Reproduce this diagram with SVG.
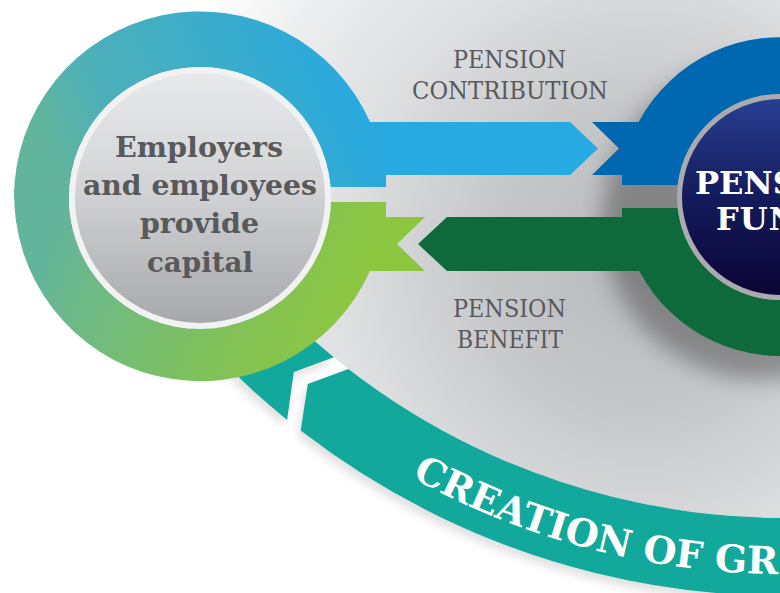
<svg xmlns="http://www.w3.org/2000/svg" width="780" height="593" viewBox="0 0 780 593">
  <defs>
    <style>
      .lbl { font-family: "DejaVu Serif", "Liberation Serif", serif; font-size: 24.5px; fill: #58595b; text-anchor: middle; }
      .cap { font-family: "DejaVu Serif", "Liberation Serif", serif; font-size: 27px; font-weight: bold; fill: #58595b; text-anchor: middle; }
      .fund { font-family: "DejaVu Serif", "Liberation Serif", serif; font-size: 32px; font-weight: bold; fill: #ffffff; }
      .band { font-family: "DejaVu Serif", "Liberation Serif", serif; font-size: 38px; font-weight: bold; fill: #ffffff; }
      .teal { fill: #12a89c; }
    </style>
    <radialGradient id="bgGrad" gradientUnits="userSpaceOnUse" cx="640" cy="260" r="520">
      <stop offset="0" stop-color="#b7b8bb"/>
      <stop offset="0.29" stop-color="#c6c7c9"/>
      <stop offset="0.48" stop-color="#d6d7d9"/>
      <stop offset="0.58" stop-color="#dfe0e1"/>
      <stop offset="0.8" stop-color="#edeeef"/>
      <stop offset="0.92" stop-color="#fbfbfb"/>
      <stop offset="1" stop-color="#ffffff"/>
    </radialGradient>
    <!-- the two ring halves mirror each other about y=198, so they meet without a seam -->
    <linearGradient id="ringTop" gradientUnits="userSpaceOnUse" x1="20" y1="198" x2="360" y2="60">
      <stop offset="0" stop-color="#62b59b"/>
      <stop offset="0.12" stop-color="#62b59b"/>
      <stop offset="0.3" stop-color="#4eb0b7"/>
      <stop offset="0.64" stop-color="#3badca"/>
      <stop offset="0.92" stop-color="#2ba9dc"/>
      <stop offset="1" stop-color="#27a9e1"/>
    </linearGradient>
    <linearGradient id="ringBottom" gradientUnits="userSpaceOnUse" x1="20" y1="198" x2="360" y2="336">
      <stop offset="0" stop-color="#62b59b"/>
      <stop offset="0.12" stop-color="#62b59b"/>
      <stop offset="0.23" stop-color="#6cb98c"/>
      <stop offset="0.64" stop-color="#80c15a"/>
      <stop offset="0.93" stop-color="#8cc642"/>
      <stop offset="1" stop-color="#8dc63f"/>
    </linearGradient>
    <linearGradient id="greyDisc" gradientUnits="userSpaceOnUse" x1="0" y1="73" x2="0" y2="323">
      <stop offset="0" stop-color="#e8e9ea"/>
      <stop offset="0.45" stop-color="#d3d4d6"/>
      <stop offset="1" stop-color="#a6a8ab"/>
    </linearGradient>
    <linearGradient id="navy" gradientUnits="userSpaceOnUse" x1="0" y1="99" x2="0" y2="295">
      <stop offset="0" stop-color="#273f91"/>
      <stop offset="0.5" stop-color="#141b5c"/>
      <stop offset="1" stop-color="#0b0436"/>
    </linearGradient>
    <filter id="soft" x="-30%" y="-30%" width="160%" height="160%">
      <feGaussianBlur stdDeviation="11"/>
    </filter>
    <filter id="softSmall" x="-10%" y="-10%" width="120%" height="120%">
      <feGaussianBlur stdDeviation="5"/>
    </filter>
    <!-- growth band pieces, around centre (785,-196), radii 714 / 792 -->
    <path id="bandHead" d="M 348.4 368.9 A 714 714 0 0 0 909.0 507.2 L 922.5 584.0 A 792 792 0 0 1 300.7 430.6 L 307.8 383.9 Z"/>
    <path id="bandTail" d="M 333.8 357.3 L 293.8 372.1 L 287.1 419.9 A 792 792 0 0 1 160.9 291.6 L 222.4 243.6 A 714 714 0 0 0 333.8 357.3 Z"/>
    <path id="bandText" d="M 411.7 477.4 A 770 770 0 0 0 984.3 547.8"/>
  </defs>

  <!-- backdrop -->
  <rect width="780" height="593" fill="#ffffff"/>
  <circle cx="785" cy="-196" r="714" fill="url(#bgGrad)"/>

  <!-- soft shadows -->
  <g id="shadows">
    <g transform="translate(-3 6)" fill="#000000" opacity="0.12" filter="url(#softSmall)">
      <use href="#bandHead"/>
      <use href="#bandTail"/>
    </g>
    <circle cx="762" cy="220" r="160" fill="#000000" opacity="0.3" filter="url(#soft)"/>
  </g>

  <g id="connectors">
    <!-- creation of growth: fund back to employers -->
    <g id="growth">
      <use href="#bandTail" class="teal"/>
      <use href="#bandHead" class="teal"/>
      <text class="band"><textPath href="#bandText">CREATION OF GR</textPath></text>
    </g>
    <!-- pension contribution: employers to fund -->
    <g id="contribution">
      <path d="M 378 122 L 570 122 L 598 148.5 L 570 175 L 378 175 Z" fill="#27a9e1"/>
      <path d="M 592 122 L 650 122 L 650 175 L 592 175 L 619 148.5 Z" fill="#0067b1"/>
      <text class="lbl" x="509.5" y="68" textLength="113" lengthAdjust="spacingAndGlyphs">PENSION</text>
      <text class="lbl" x="510" y="99" textLength="196" lengthAdjust="spacingAndGlyphs">CONTRIBUTION</text>
    </g>
    <!-- pension benefit: fund to employers -->
    <g id="benefit">
      <path d="M 418 244 L 447 217 L 650 217 L 650 271 L 447 271 Z" fill="#0e6a3a"/>
      <path d="M 378 217 L 425 217 L 397 244 L 425 271 L 378 271 Z" fill="#8dc63f"/>
      <text class="lbl" x="509.5" y="317" textLength="113" lengthAdjust="spacingAndGlyphs">PENSION</text>
      <text class="lbl" x="510" y="348" textLength="106" lengthAdjust="spacingAndGlyphs">BENEFIT</text>
    </g>
  </g>

  <!-- employers and employees -->
  <g id="employers">
    <path d="M 14.3 188.3 A 186 186 0 0 0 370 271 L 386 271 L 386 202 L 330.9 202 A 131 131 0 0 1 200 329 A 131 131 0 0 1 69.2 191.1 Z" fill="url(#ringBottom)"/>
    <path d="M 14 198 A 186 186 0 0 1 370 122 L 386 122 L 386 187 L 330.5 187 A 131 131 0 0 0 200 67 A 131 131 0 0 0 69 198 Z" fill="url(#ringTop)"/>
    <circle cx="200" cy="198" r="131" fill="#f2f2f3"/>
    <circle cx="200" cy="198" r="125" fill="url(#greyDisc)"/>
    <text class="cap" x="199" y="157" textLength="168" lengthAdjust="spacingAndGlyphs">Employers</text>
    <text class="cap" x="200" y="195" textLength="234" lengthAdjust="spacingAndGlyphs">and employees</text>
    <text class="cap" x="199.5" y="233" textLength="119" lengthAdjust="spacingAndGlyphs">provide</text>
    <text class="cap" x="200" y="272" textLength="106" lengthAdjust="spacingAndGlyphs">capital</text>
  </g>

  <!-- pension fund -->
  <g id="pension-fund">
    <path d="M 622 175 L 622 185 L 677.7 185 A 103 103 0 0 1 882.3 185 L 939.5 185 A 160 160 0 0 0 638.7 122 L 622 122 Z" fill="#0067b1"/>
    <path d="M 622 217 L 622 208 L 677.6 208 A 103 103 0 0 0 882.4 208 L 938.6 208 A 159 159 0 0 1 639.3 271 L 622 271 Z" fill="#0e6a3a"/>
    <circle cx="780" cy="197" r="103" fill="#a9abae"/>
    <circle cx="780" cy="197" r="98" fill="url(#navy)"/>
    <text class="fund" x="695" y="194">PENS</text>
    <text class="fund" x="716" y="229.5" letter-spacing="1">FUN</text>
  </g>
</svg>
